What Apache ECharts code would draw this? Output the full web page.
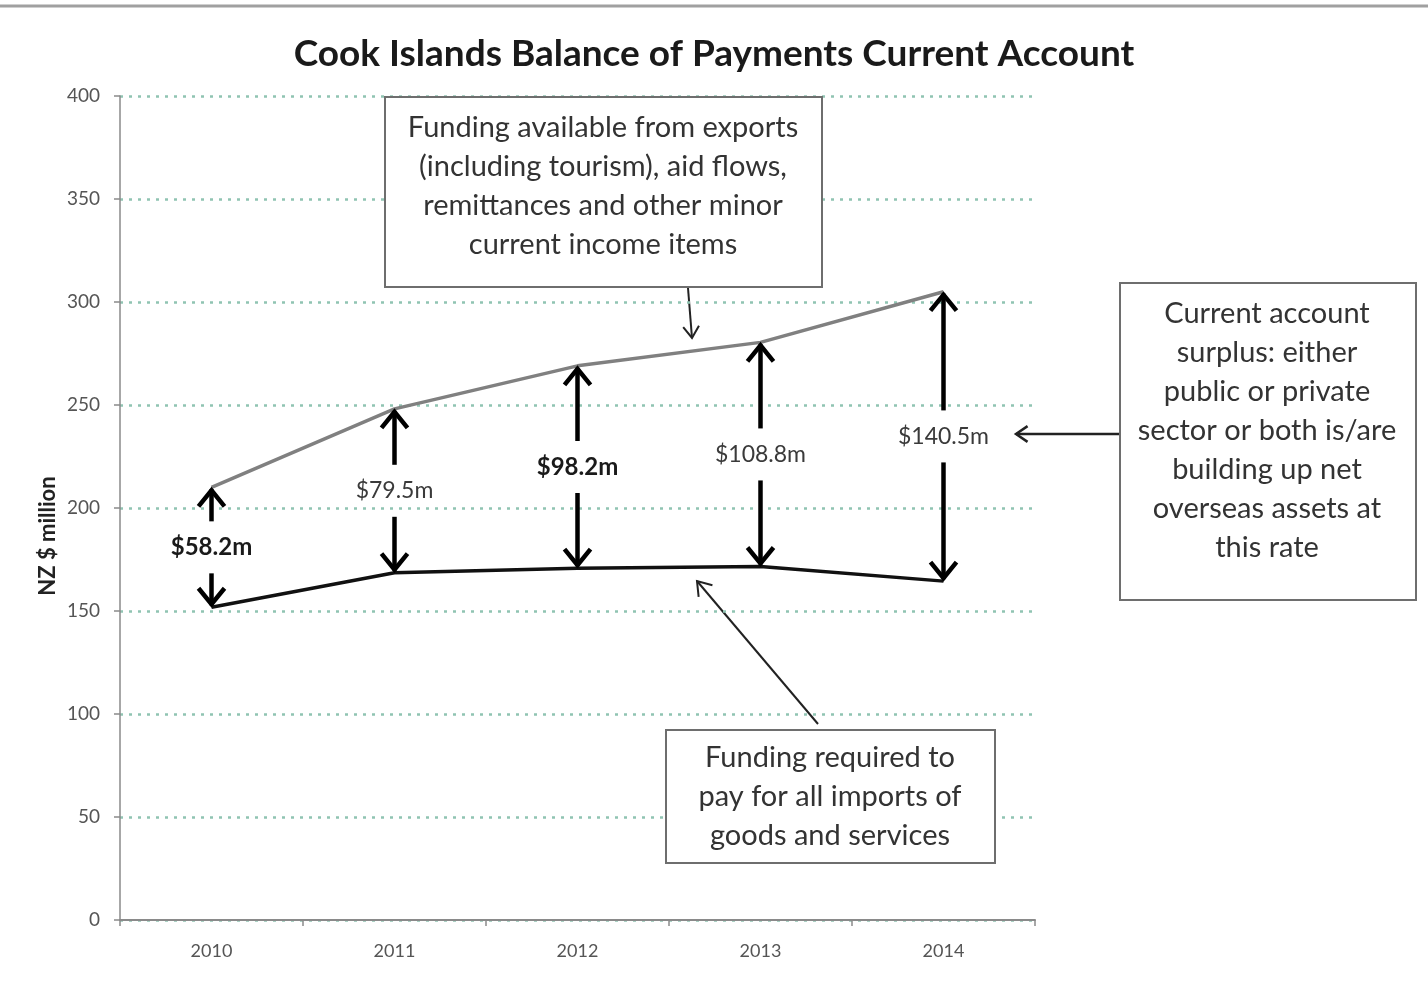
<!DOCTYPE html>
<html>
<head>
<meta charset="utf-8">
<title>Cook Islands Balance of Payments Current Account</title>
<script src="https://cdn.jsdelivr.net/npm/echarts@6/dist/echarts.min.js"></script>
<style>
  html, body { margin: 0; padding: 0; background: #fff; }
  #chart { width: 1428px; height: 983px; }
</style>
</head>
<body>
<div id="chart"></div>
<script>
// Years on the category axis
const years = ['2010', '2011', '2012', '2013', '2014'];
// Payments for imports of goods and services (NZ$ million)
const importPayments = [151.8, 168.6, 170.8, 171.6, 164.5];
// Current account surplus (NZ$ million)
const surplus = [58.2, 79.5, 98.2, 108.8, 140.5];
// Funding available from exports, aid, remittances etc. = imports + surplus
const incomeFunding = importPayments.map((v, i) => +(v + surplus[i]).toFixed(1));
// Value axis ticks
const yTicks = { min: 0, max: 400, interval: 50 };

// Surplus labels drawn in bold
const boldYears = ['2010', '2012'];

const FONT = 'Lato, "Open Sans", sans-serif';
const chart = echarts.init(document.getElementById('chart'), null, { renderer: 'canvas' });

// Line with an open chevron head at (x2, y2)
function arrow(x1, y1, x2, y2, width, head, color) {
  const a = Math.atan2(y2 - y1, x2 - x1);
  const h1 = [x2 - head * Math.cos(a - 0.6), y2 - head * Math.sin(a - 0.6)];
  const h2 = [x2 - head * Math.cos(a + 0.6), y2 - head * Math.sin(a + 0.6)];
  return [
    { type: 'line', shape: { x1, y1, x2, y2 }, style: { stroke: color, lineWidth: width } },
    { type: 'polyline', shape: { points: [h1, [x2, y2], h2] },
      style: { stroke: color, lineWidth: width, fill: null, lineJoin: 'miter' } }
  ];
}

function box(x, y, w, h, lines, cx, midY, lh) {
  return [
    { type: 'rect', shape: { x, y, width: w, height: h },
      style: { fill: '#fff', stroke: '#6e6e6e', lineWidth: 2 }, z: 50 },
    { type: 'text', x: cx, y: midY, z: 51,
      style: { text: lines.join('\n'), font: '29px ' + FONT, fill: '#333',
               textAlign: 'center', textVerticalAlign: 'middle', lineHeight: lh } }
  ];
}

const annotations = [].concat(
  [{ type: 'line', shape: { x1: 0, y1: 6, x2: 1428, y2: 6 },
     style: { stroke: '#a0a0a0', lineWidth: 3 } }],
  [{ type: 'text', x: 48, y: 536, rotation: Math.PI / 2,
     style: { text: 'NZ $ million', font: 'bold 22px ' + FONT, fill: '#222',
              textAlign: 'center', textVerticalAlign: 'middle' } }],
  box(385, 97, 437, 190, ['Funding available from exports', '(including tourism), aid flows,',
      'remittances and other minor', 'current income items'], 603, 186, 39),
  arrow(688, 288, 692, 338, 2, 14, '#222'),
  box(1120, 283, 296, 317, ['Current account', 'surplus: either', 'public or private',
      'sector or both is/are', 'building up net', 'overseas assets at', 'this rate'], 1267, 431, 39),
  arrow(1120, 434, 1016, 434, 2.5, 14, '#222'),
  box(666, 730, 329, 133, ['Funding required to', 'pay for all imports of',
      'goods and services'], 830, 797, 39),
  arrow(818, 724, 697, 581, 2, 16, '#222')
);

const option = {
  animation: false,
  backgroundColor: '#fff',
  title: {
    text: 'Cook Islands Balance of Payments Current Account',
    left: 'center', top: 31,
    textStyle: { fontFamily: FONT, fontSize: 37, fontWeight: 'bold', color: '#1a1a1a' }
  },
  grid: { left: 120, right: 393, top: 96, bottom: 63, containLabel: false },
  xAxis: {
    type: 'category',
    data: years,
    boundaryGap: true,
    axisLine: { lineStyle: { color: '#8a8a8a', width: 2 } },
    axisTick: { show: true, alignWithLabel: false, length: 6, lineStyle: { color: '#8a8a8a', width: 1.5 } },
    axisLabel: { fontFamily: FONT, fontSize: 18, color: '#555', margin: 22 }
  },
  yAxis: {
    type: 'value',
    min: yTicks.min, max: yTicks.max, interval: yTicks.interval,
    axisLine: { show: true, lineStyle: { color: '#8a8a8a', width: 1.5 } },
    axisTick: { show: true, length: 6, lineStyle: { color: '#8a8a8a', width: 1.5 } },
    axisLabel: { fontFamily: FONT, fontSize: 19, color: '#555', margin: 20 },
    splitLine: { show: true, lineStyle: { color: '#90c4b2', width: 2.5, type: [3, 6] } }
  },
  series: [
    {
      name: 'Funding available', type: 'line', data: incomeFunding,
      symbol: 'none', lineStyle: { color: '#808080', width: 3.5 }, z: 3
    },
    {
      name: 'Funding required', type: 'line', data: importPayments,
      symbol: 'none', lineStyle: { color: '#111', width: 3.5 }, z: 3
    },
    {
      name: 'Surplus', type: 'custom', z: 4,
      data: years.map((y, i) => [i, importPayments[i], incomeFunding[i], surplus[i]]),
      renderItem: function (params, api) {
        const i = api.value(0);
        const lo = api.coord([i, api.value(1)]);
        const hi = api.coord([i, api.value(2)]);
        const x = lo[0];
        const mid = (lo[1] + hi[1]) / 2;
        const gap = 26;
        const hw = 13, hh = 17;
        const st = { stroke: '#000', lineWidth: 4.5, fill: null };
        const bold = boldYears.indexOf(years[i]) >= 0;
        return {
          type: 'group',
          children: [
            { type: 'line', shape: { x1: x, y1: hi[1] + 2, x2: x, y2: mid - gap }, style: st },
            { type: 'line', shape: { x1: x, y1: mid + gap, x2: x, y2: lo[1] - 2 }, style: st },
            { type: 'polyline', shape: { points: [[x - hw, hi[1] + hh + 2], [x, hi[1] + 3], [x + hw, hi[1] + hh + 2]] }, style: st },
            { type: 'polyline', shape: { points: [[x - hw, lo[1] - hh - 2], [x, lo[1] - 3], [x + hw, lo[1] - hh - 2]] }, style: st },
            { type: 'text', x: x, y: mid,
              style: { text: '$' + api.value(3).toFixed(1) + 'm',
                       font: (bold ? 'bold 24px ' : '23px ') + FONT,
                       fill: bold ? '#1a1a1a' : '#3a3a3a',
                       textAlign: 'center', textVerticalAlign: 'middle' } }
          ]
        };
      }
    }
  ],
  graphic: annotations
};

chart.setOption(option);
</script>
</body>
</html>
